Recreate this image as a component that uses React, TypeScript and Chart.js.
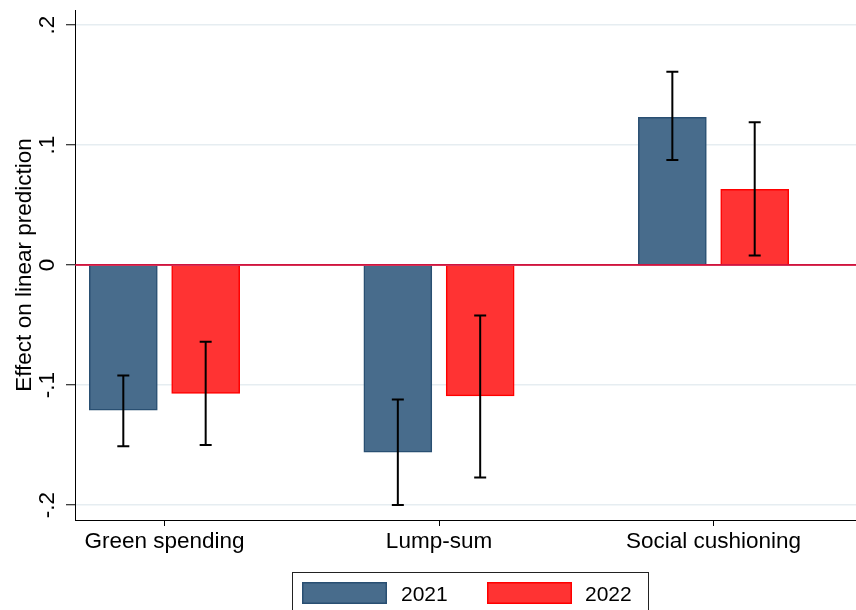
import React, { useEffect, useRef } from "react";
import { Chart, registerables } from "chart.js";

Chart.register(...registerables);

const categories = ["Green spending", "Lump-sum", "Social cushioning"];
const seriesNames = ["2021", "2022"];
const values2021 = [-0.121, -0.156, 0.123];
const values2022 = [-0.107, -0.109, 0.063];
const lower2021 = [-0.151, -0.2, 0.0875];
const upper2021 = [-0.092, -0.112, 0.161];
const lower2022 = [-0.15, -0.177, 0.008];
const upper2022 = [-0.064, -0.042, 0.119];
const yTickValues = [-0.2, -0.1, 0, 0.1, 0.2];
const yTickLabels = ["-.2", "-.1", "0", ".1", ".2"];
const yTitle = "Effect on linear prediction";

const FONT = '"Liberation Sans", Arial, sans-serif';
const C2021 = "#486c8c";
const B2021 = "#294f72";
const C2022 = "#ff3333";
const B2022 = "#ff0000";
const ZERO = "#d0143f";
const GRID = "#e6edf1";
const OFFSET = 0.15;

export default function App() {
  const ref = useRef<HTMLCanvasElement | null>(null);

  useEffect(() => {
    if (!ref.current) return;
    const lowers = [lower2021, lower2022];
    const uppers = [upper2021, upper2022];

    const plugin = {
      id: "custom",
      afterDatasetsDraw(chart: any) {
        const ctx = chart.ctx;
        const { left, right } = chart.chartArea;
        const y = chart.scales.y;
        const x = chart.scales.x;
        // zero line
        ctx.save();
        ctx.strokeStyle = ZERO;
        ctx.lineWidth = 1.5;
        const y0 = y.getPixelForValue(0);
        ctx.beginPath();
        ctx.moveTo(left, y0);
        ctx.lineTo(right, y0);
        ctx.stroke();
        // error bars
        ctx.strokeStyle = "#000";
        ctx.lineWidth = 2;
        chart.data.datasets.forEach((ds: any, di: number) => {
          ds.data.forEach((pt: any, i: number) => {
            const px = x.getPixelForValue(pt.x);
            const lo = y.getPixelForValue(lowers[di][i]);
            const hi = y.getPixelForValue(uppers[di][i]);
            ctx.beginPath();
            ctx.moveTo(px, lo);
            ctx.lineTo(px, hi);
            ctx.moveTo(px - 6, lo);
            ctx.lineTo(px + 6, lo);
            ctx.moveTo(px - 6, hi);
            ctx.lineTo(px + 6, hi);
            ctx.stroke();
          });
        });
        ctx.restore();
      },
      afterDraw(chart: any) {
        const ctx = chart.ctx;
        const y = chart.scales.y;
        const x = chart.scales.x;
        const { top, bottom } = chart.chartArea;
        ctx.save();
        ctx.fillStyle = "#000";
        // y tick labels rotated
        ctx.font = `22.5px ${FONT}`;
        ctx.textAlign = "center";
        ctx.textBaseline = "alphabetic";
        yTickValues.forEach((v, i) => {
          const py = y.getPixelForValue(v);
          ctx.save();
          ctx.translate(54, py);
          ctx.rotate(-Math.PI / 2);
          ctx.fillText(yTickLabels[i], 0, 0);
          ctx.restore();
        });
        // y title
        ctx.save();
        ctx.translate(31, (top + bottom) / 2);
        ctx.rotate(-Math.PI / 2);
        ctx.fillText(yTitle, 0, 0);
        ctx.restore();
        // x labels
        categories.forEach((c, i) => {
          ctx.fillText(c, x.getPixelForValue(i), 548);
        });
        // legend
        ctx.strokeStyle = "#222";
        ctx.lineWidth = 1;
        ctx.strokeRect(292.5, 572.5, 356, 50);
        const boxes = [
          { x: 302, fill: C2021, border: B2021, tx: 401 },
          { x: 487, fill: C2022, border: B2022, tx: 585 },
        ];
        ctx.font = `21px ${FONT}`;
        ctx.textAlign = "left";
        boxes.forEach((b, i) => {
          ctx.fillStyle = b.fill;
          ctx.fillRect(b.x, 582, 85, 22);
          ctx.strokeStyle = b.border;
          ctx.lineWidth = 1.5;
          ctx.strokeRect(b.x + 0.75, 582.75, 83.5, 20.5);
          ctx.fillStyle = "#000";
          ctx.fillText(seriesNames[i], b.tx, 601);
        });
        ctx.restore();
      },
    };

    const chart = new Chart(ref.current, {
      type: "bar",
      data: {
        datasets: [
          {
            label: seriesNames[0],
            data: values2021.map((v, i) => ({ x: i - OFFSET, y: v })),
            backgroundColor: C2021,
            borderColor: B2021,
            borderWidth: 1.5,
          },
          {
            label: seriesNames[1],
            data: values2022.map((v, i) => ({ x: i + OFFSET, y: v })),
            backgroundColor: C2022,
            borderColor: B2022,
            borderWidth: 1.5,
          },
        ],
      },
      options: {
        animation: false,
        responsive: false,
        events: [],
        layout: { padding: { top: 10, right: 0, left: 0, bottom: 0 } },
        datasets: {
          bar: {
            grouped: false,
            barPercentage: 1,
            categoryPercentage: 1,
            maxBarThickness: 68,
          },
        },
        plugins: { legend: { display: false }, tooltip: { enabled: false } },
        scales: {
          x: {
            type: "linear",
            min: -0.326,
            max: 2.519,
            offset: false,
            afterBuildTicks: (s: any) => {
              s.ticks = categories.map((_, i) => ({ value: i }));
            },
            afterFit: (s: any) => {
              s.height = 90;
            },
            ticks: { display: false },
            grid: {
              display: true,
              offset: false,
              drawOnChartArea: false,
              drawTicks: true,
              tickLength: 6,
              tickColor: "#000",
              tickWidth: 1,
            },
            border: { display: true, color: "#000", width: 1 },
          },
          y: {
            type: "linear",
            min: -0.2125,
            max: 0.2125,
            afterBuildTicks: (s: any) => {
              s.ticks = yTickValues.map((v) => ({ value: v }));
            },
            afterFit: (s: any) => {
              s.width = 75;
            },
            ticks: { display: false },
            grid: {
              color: (c: any) => (c.tick && c.tick.value === 0 ? ZERO : GRID),
              lineWidth: 1.5,
              drawTicks: true,
              tickLength: 9,
              tickColor: "#000",
              tickWidth: 1,
            },
            border: { display: true, color: "#000", width: 1 },
          },
        },
      },
      plugins: [plugin],
    } as any);
    return () => chart.destroy();
  }, []);

  return (
    <div style={{ position: "fixed", left: 0, top: 0, width: 856, height: 610, background: "#fff" }}>
      <canvas ref={ref} width={856} height={610} style={{ width: 856, height: 610, display: "block" }} />
    </div>
  );
}
